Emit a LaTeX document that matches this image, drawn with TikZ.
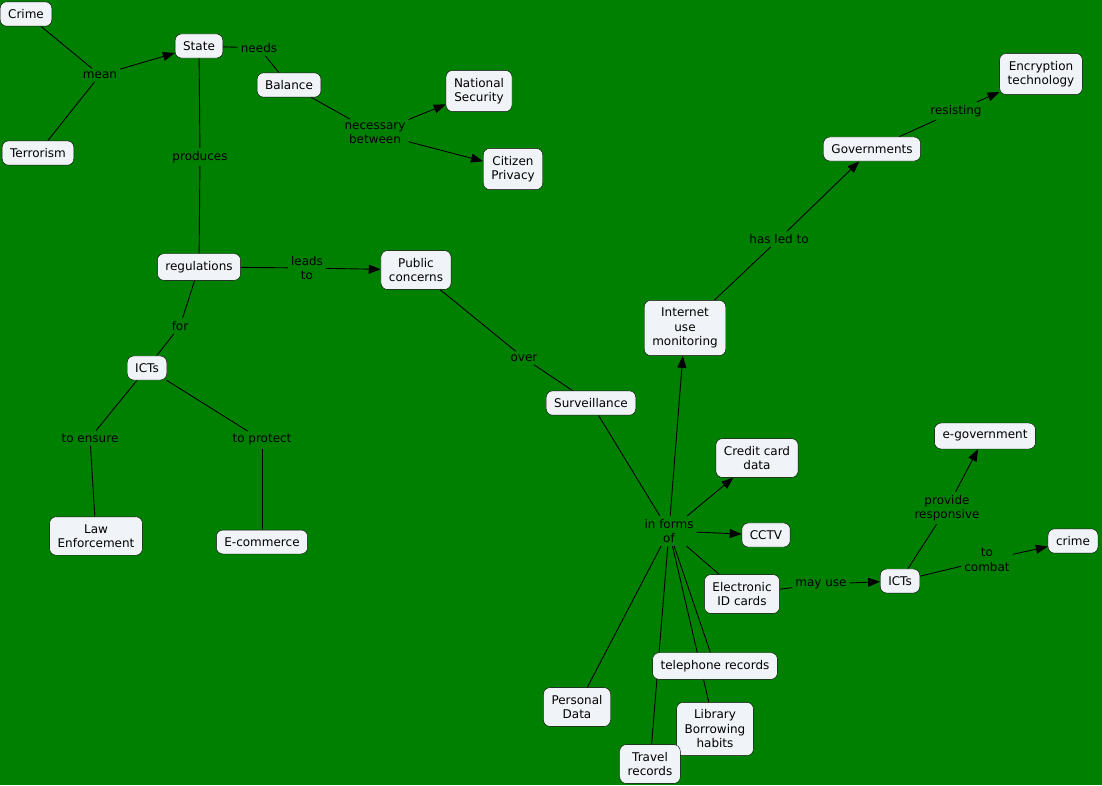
\documentclass[tikz,border=0pt]{standalone}
\usepackage{fontspec}
\setmainfont{DejaVu Sans}
\usetikzlibrary{arrows.meta, backgrounds}

\definecolor{mapgreen}{RGB}{0,128,0}
\definecolor{boxfill}{RGB}{240,244,248}

\begin{document}
\begin{tikzpicture}[
    x=1pt, y=-1pt,
    font=\fontsize{12}{14.5}\selectfont,
    concept/.style={rectangle, draw=black, fill=boxfill, rounded corners=6.5pt, align=center, inner xsep=8pt, inner ysep=7.5pt},
    linkword/.style={align=center, inner sep=3pt},
    link/.style={draw=black, line width=0.9pt},
    arrow/.style={link, -{Triangle[length=12pt, width=9pt]}}
]
    \useasboundingbox (0,0) rectangle (1102,785);

    % concepts
    \node[concept] (crime) at (26,14) {Crime};
    \node[concept] (terror) at (38,153) {Terrorism};
    \node[concept] (state) at (199,46) {State};
    \node[concept] (balance) at (289,85) {Balance};
    \node[concept] (natsec) at (479,91) {National\\Security};
    \node[concept] (privacy) at (513,169) {Citizen\\Privacy};
    \node[concept] (regs) at (199,267) {regulations};
    \node[concept] (public) at (416,270) {Public\\concerns};
    \node[concept] (icts) at (147,368) {ICTs};
    \node[concept] (law) at (96,536) {Law\\Enforcement};
    \node[concept] (ecom) at (262,542) {E-commerce};
    \node[concept] (surv) at (591,403) {Surveillance};
    \node[concept] (internet) at (685,328) {Internet\\use\\monitoring};
    \node[concept] (govs) at (872,149) {Governments};
    \node[concept] (encrypt) at (1041,74) {Encryption\\technology};
    \node[concept] (credit) at (757,458) {Credit card\\data};
    \node[concept] (cctv) at (766,535) {CCTV};
    \node[concept] (eid) at (742,594) {Electronic\\ID cards};
    \node[concept] (ictsb) at (900,581) {ICTs};
    \node[concept] (egov) at (985,436) {e-government};
    \node[concept] (crimeb) at (1073,541) {crime};
    \node[concept] (phone) at (715,666) {telephone records};
    \node[concept] (personal) at (577,707) {Personal\\Data};
    \node[concept] (library) at (715,729) {Library\\Borrowing\\habits};
    \node[concept] (travel) at (650,764) {Travel\\records};

    % linking words
    \node[linkword] (mean) at (100,75) {mean};
    \node[linkword] (needs) at (259,48) {needs};
    \node[linkword] (between) at (375,133) {necessary\\between};
    \node[linkword] (produces) at (200,157) {produces};
    \node[linkword] (leads) at (307,268) {leads\\to};
    \node[linkword] (for) at (180,326) {for};
    \node[linkword] (ensure) at (90,438) {to ensure};
    \node[linkword] (protect) at (262,440) {to protect};
    \node[linkword] (over) at (524,358) {over};
    \node[linkword] (ledto) at (779,239) {has led to};
    \node[linkword] (resist) at (956,111) {resisting};
    \node[linkword] (forms) at (669,531) {in forms\\of};
    \node[linkword] (mayuse) at (821,584) {may use};
    \node[linkword] (provide) at (947,508) {provide\\responsive};
    \node[linkword] (combat) at (987,560) {to\\combat};

    \begin{scope}[on background layer]
        \fill[mapgreen] (0,0) rectangle (1102,785);

        \draw[link] (crime) -- (mean);
        \draw[link] (terror) -- (mean);
        \draw[arrow] (mean) -- (state);
        \draw[link] (state) -- (needs);
        \draw[link] (needs) -- (balance);
        \draw[link] (balance) -- (between);
        \draw[arrow] (between) -- (natsec);
        \draw[arrow] (between) -- (privacy);
        \draw[link] (state) -- (produces);
        \draw[link] (produces) -- (regs);
        \draw[link] (regs) -- (leads);
        \draw[arrow] (leads) -- (public);
        \draw[link] (regs) -- (for);
        \draw[link] (for) -- (icts);
        \draw[link] (icts) -- (ensure);
        \draw[link] (ensure) -- (law);
        \draw[link] (icts) -- (protect);
        \draw[link] (protect) -- (ecom);
        \draw[link] (public) -- (over);
        \draw[link] (over) -- (surv);
        \draw[link] (surv) -- (forms);
        \draw[arrow] (forms) -- (internet);
        \draw[arrow] (forms) -- (credit);
        \draw[arrow] (forms) -- (cctv);
        \draw[link] (forms) -- (eid);
        \draw[link] (forms) -- (personal);
        \draw[link] (forms) -- (travel);
        \draw[link] (forms) -- (phone);
        \draw[link] (forms) -- (library);
        \draw[link] (internet) -- (ledto);
        \draw[arrow] (ledto) -- (govs);
        \draw[link] (govs) -- (resist);
        \draw[arrow] (resist) -- (encrypt);
        \draw[link] (eid) -- (mayuse);
        \draw[arrow] (mayuse) -- (ictsb);
        \draw[link] (ictsb) -- (provide);
        \draw[arrow] (provide) -- (egov);
        \draw[link] (ictsb) -- (combat);
        \draw[arrow] (combat) -- (crimeb);
    \end{scope}
\end{tikzpicture}
\end{document}
